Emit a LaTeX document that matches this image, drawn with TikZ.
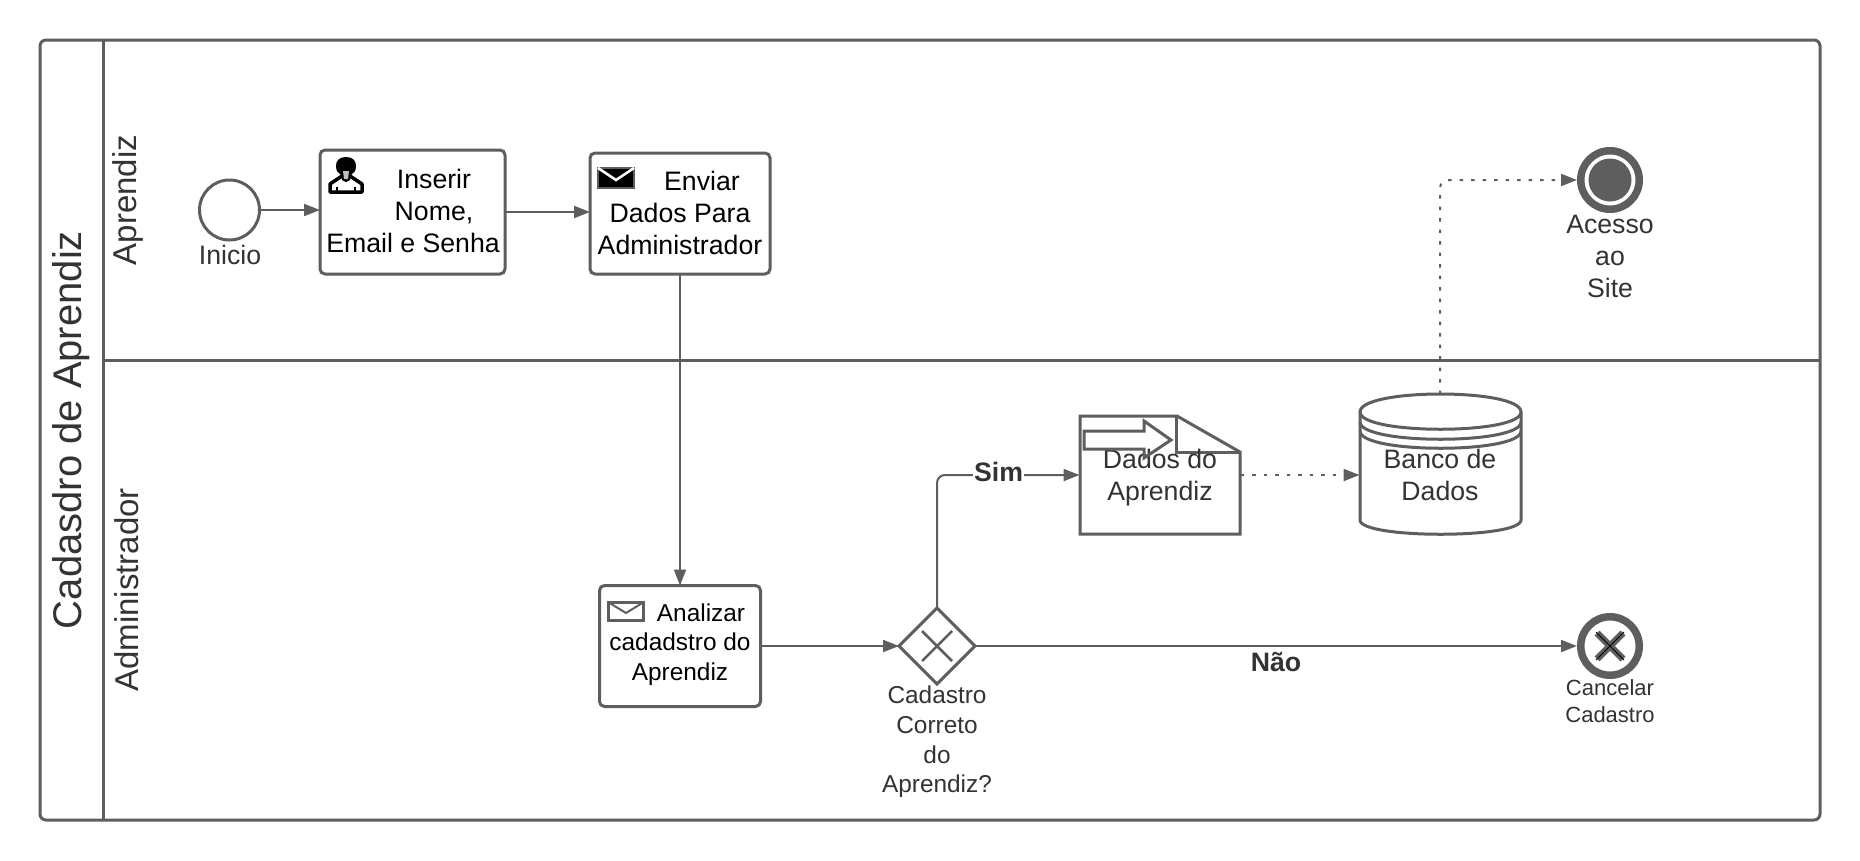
\documentclass[tikz,border=0pt]{standalone}
\usepackage{fontspec}
\setmainfont{Liberation Sans}
\usetikzlibrary{arrows.meta}
\definecolor{ln}{HTML}{5E5E5E}
\definecolor{tx}{HTML}{333333}
\newcommand{\fs}[2]{\fontsize{#1}{#2}\selectfont}
\tikzset{
  x=1pt,y=-1pt,
  taskbox/.style={draw=ln,line width=3pt,rounded corners=5pt,fill=white,inner sep=0,outer sep=0},
  blk/.style={inner sep=0,outer sep=0,align=center,text=black},
  grey/.style={inner sep=0,outer sep=0,align=center,text=tx},
  big/.style={font=\fs{26.67}{32}},
  mid/.style={font=\fs{24.4}{29.6}},
  flow/.style={draw=ln,line width=2pt,-{Triangle[length=16pt,width=12pt,fill=ln]},rounded corners=8pt},
  dotflow/.style={flow,dash pattern=on 3.5pt off 8pt},
  stk/.style={draw=ln,line width=3pt,line join=miter},
  endev/.style={circle,draw=ln,line width=7.5pt,minimum size=58.5pt,inner sep=0,outer sep=3.75pt},
}
\begin{document}
\begin{tikzpicture}
\useasboundingbox (0,0) rectangle (1860,860);
\fill[white] (0,0) rectangle (1860,860);
% pool
\draw[stk,rounded corners=6pt] (40,40) rectangle (1820,820);
\coordinate (lt) at (103,40); \coordinate (lb) at (103,820);
\coordinate (dl) at (103,360); \coordinate (dr) at (1820,360);
\draw[stk] (lt) -- (lb);
\draw[stk] (dl) -- (dr);
\node[grey,rotate=90,font=\fs{40}{46}] (pool) at (71,430) {Cadasdro de Aprendiz};
\node[grey,rotate=90,font=\fs{33}{38}] (la) at (128,200) {Aprendiz};
\node[grey,rotate=90,font=\fs{33}{38}] (lb2) at (127,590) {Administrador};
% start
\node[circle,draw=ln,line width=3pt,minimum size=60pt,inner sep=0,outer sep=0] (s) at (229.5,210) {};
\node[grey,big] (st) at (230,255) {Inicio};
% tasks
\node[taskbox,minimum width=185pt,minimum height=124pt] (t1) at (412.5,212) {};
\node[blk,big] (t1t) at (413,210.5) {\hspace*{42pt}Inserir\\\hspace*{42pt}Nome,\\Email e Senha};
\node[taskbox,minimum width=180pt,minimum height=121pt] (t2) at (680,213.5) {};
\node[blk,big] (t2t) at (680,213) {\hspace*{44pt}Enviar\\Dados Para\\Administrador};
\node[taskbox,minimum width=161pt,minimum height=121pt] (t3) at (680,646) {};
\node[blk,mid] (t3t) at (680,644.5) {\hspace*{42pt}Analizar\\cadadstro do\\Aprendiz};
% user icon
\draw[black,line width=3.5pt,line join=round,fill=white] (330,192) -- (330,184) -- (339,178) -- (342,176) -- (350,176) -- (353,178) -- (362,184) -- (362,192) -- cycle;
\draw[black,line width=2pt] (337,187) -- (337,192) (355,187) -- (355,192);
\fill[black] (346,157) .. controls (339,157) and (336,161) .. (336,166) .. controls (336,171) and (338,173) .. (341,175) -- (342,180) -- (346,182) -- (350,180) -- (351,175) .. controls (354,173) and (356,171) .. (356,166) .. controls (356,161) and (353,157) .. (346,157) -- cycle;
\fill[white!75!black] (343,171) -- (349,171) -- (348,179) -- (344,179) -- cycle;
% envelopes
\node[inner sep=0,outer sep=0,fill=black,draw=ln,line width=2pt,minimum width=36pt,minimum height=20pt] (e1) at (616,178) {};
\draw[white,line width=2.5pt] (598,168) -- (616,180) -- (634,168);
\node[inner sep=0,outer sep=0,draw=ln,line width=3.5pt,fill=white,minimum width=35pt,minimum height=18pt] (e2) at (626,611.5) {};
\draw[ln,line width=2pt] (608,602) -- (626,613) -- (644,602);
% gateway
\coordinate (g) at (937,646);
\node[inner sep=0,outer sep=0,minimum width=76pt,minimum height=76pt] (gw) at (g) {};
\draw[stk] (937,608) -- (975,646) -- (937,684) -- (899,646) -- cycle;
\draw[ln,line width=2.5pt] (922,631) -- (952,661) (952,631) -- (922,661);
\node[grey,mid] (gt) at (937,742) {Cadastro\\Correto\\do\\Aprendiz?};
% data object
\node[inner sep=0,outer sep=0,minimum width=161pt,minimum height=118pt] (doc) at (1160,475) {};
\draw[stk] (1080,416) -- (1177,416) -- (1240,452) -- (1240,534) -- (1080,534) -- cycle;
\draw[stk] (1176,416) -- (1176,452) -- (1240,452);
\node[grey,big] (doct) at (1160,477.5) {Dados do\\Aprendiz};
\draw[stk] (1084,431) -- (1144,431) -- (1144,421) -- (1171,440) -- (1144,458) -- (1144,449) -- (1084,449) -- cycle;
% cylinder
\node[inner sep=0,outer sep=0,minimum width=161pt,minimum height=140pt] (cyl) at (1440,464) {};
\draw[stk] (1360,412) .. controls (1360,388) and (1521,388) .. (1521,412) -- (1521,520) .. controls (1521,539) and (1360,539) .. (1360,520) -- cycle;
\draw[stk] (1360,412) .. controls (1360,435) and (1521,435) .. (1521,412);
\draw[stk] (1360,422) .. controls (1360,445) and (1521,445) .. (1521,422);
\draw[stk] (1360,431) .. controls (1360,454) and (1521,454) .. (1521,431);
\node[grey,big] (cylt) at (1440,475) {Banco de\\Dados};
% end events
\node[endev] (e) at (1610,180) {};
\fill[ln] (e.center) circle (21.5);
\node[grey,big] (et) at (1610,256) {Acesso\\ao\\Site};
\node[endev] (c) at (1610,646) {};
\draw[ln,line width=7pt] (1597,633) -- (1623,659) (1623,633) -- (1597,659);
\draw[black,line width=1pt] (1596,632) -- (1624,660) (1624,632) -- (1596,660);
\node[grey,font=\fs{22}{27}] (ct) at (1610,701) {Cancelar\\Cadastro};
% connectors
\draw[flow] (s.east) -- (s.east -| t1.west);
\draw[flow] (t1.east) -- (t1.east -| t2.west);
\draw[flow] (t2.south) -- (t3.north);
\draw[flow] (t3.east) -- (gw.west);
\draw[flow] (gw.north) |- (doc.west);
\draw[flow] (gw.east) -- (c.west);
\draw[dotflow] (doc.east) -- (doc.east -| cyl.west);
\draw[dotflow] (cyl.north) |- (e.west);
\node[inner sep=1pt,fill=white,text=tx,big] (sim) at (998.5,472) {\bfseries Sim};
\node[inner sep=0,text=tx,big] (nao) at (1276,662) {\bfseries Não};
\end{tikzpicture}
\end{document}
